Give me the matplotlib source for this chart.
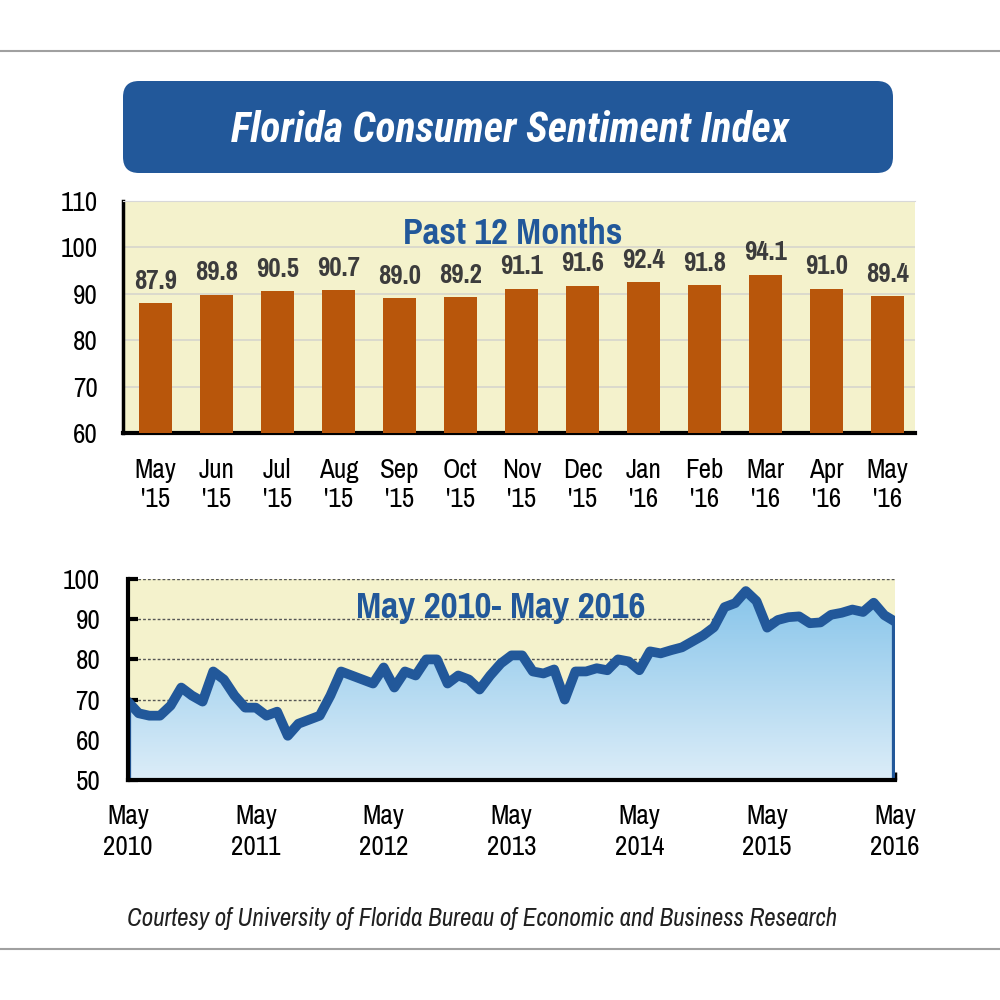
import numpy as np
import matplotlib
matplotlib.use('Agg')
import matplotlib.pyplot as plt
from matplotlib import font_manager as fm
from matplotlib.patches import FancyBboxPatch, Polygon
from matplotlib.lines import Line2D


# Arial Narrow benzeri dar yazi tipi (agirlik/stil varsa)
def pick(cands, bold=False, italic=False):
    for name in cands:
        for f in fm.fontManager.ttflist:
            w = f.weight if isinstance(f.weight, int) else fm.weight_dict.get(f.weight, 400)
            if f.name != name:
                continue
            if bold and w < 700:
                continue
            if not bold and w >= 600:
                continue
            if italic != (f.style in ('italic', 'oblique')):
                continue
            return name
    return None


narrow_list = ['Liberation Sans Narrow', 'Arial Narrow', 'Pragati Narrow', 'PT Sans Narrow',
               'Roboto Condensed', 'IBM Plex Sans Condensed', 'Asap Condensed',
               'Barlow Semi Condensed', 'Archivo Narrow']
reg_font = pick(['Liberation Sans Narrow', 'Arial Narrow', 'Archivo Narrow'] + narrow_list) or 'Liberation Sans'
ital_font = pick(['Liberation Sans Narrow', 'Arial Narrow', 'Archivo Narrow'] + narrow_list, italic=True) or 'Liberation Sans'
bold_font = pick(narrow_list, bold=True)
bi_font = pick(narrow_list, bold=True, italic=True)
plt.rcParams['font.family'] = [reg_font, 'Liberation Sans', 'DejaVu Sans']
bsc = 1.0 if bold_font else 0.87   # genis yazi tipinde kucult
bisc = 1.0 if bi_font else 0.87
bold_font = bold_font or 'Liberation Sans'
bi_font = bi_font or 'Liberation Sans'

# Son 12 ay
months = ["May\n'15", "Jun\n'15", "Jul\n'15", "Aug\n'15", "Sep\n'15", "Oct\n'15", "Nov\n'15",
          "Dec\n'15", "Jan\n'16", "Feb\n'16", "Mar\n'16", "Apr\n'16", "May\n'16"]
recent = [87.9, 89.8, 90.5, 90.7, 89.0, 89.2, 91.1, 91.6, 92.4, 91.8, 94.1, 91.0, 89.4]

# May 2010 - May 2016 aylik
history = [69.5, 66.6, 66.0, 66.0, 68.5, 73.0, 71.0, 69.5,
           77.0, 75.0, 71.0, 68.0, 68.0, 66.0, 67.0, 61.0, 64.0, 65.0, 66.0, 71.0,
           77.0, 76.0, 75.0, 74.0, 78.0, 73.0, 77.0, 76.0, 80.0, 80.0, 74.0, 76.0,
           75.0, 72.5, 76.0, 79.0, 81.0, 81.0, 77.0, 76.5, 77.5, 70.0, 77.0, 77.0,
           77.8, 77.3, 80.0, 79.5, 77.3, 82.0, 81.5, 82.3, 83.0, 84.5, 86.0, 88.0,
           93.0, 94.0, 97.0, 94.5, 87.9, 89.8, 90.5, 90.7, 89.0, 89.2, 91.1, 91.6,
           92.4, 91.8, 94.1, 91.0, 89.4]
year_ticks = [0, 12, 24, 36, 48, 60, 72]
year_labels = ['May\n2010', 'May\n2011', 'May\n2012', 'May\n2013', 'May\n2014', 'May\n2015', 'May\n2016']

blue = '#22589a'
yellow = '#f4f2cc'

fig = plt.figure(figsize=(10, 10), dpi=100)

# ust ve alt gri cizgiler
fig.add_artist(Line2D([0, 1], [0.949, 0.949], color='#a0a0a0', lw=1.5))
fig.add_artist(Line2D([0, 1], [0.051, 0.051], color='#a0a0a0', lw=1.5))

# baslik kutusu
box = FancyBboxPatch((0.123, 0.827), 0.770, 0.092, boxstyle='round,pad=0,rounding_size=0.016',
                     transform=fig.transFigure, facecolor=blue, edgecolor='none')
fig.add_artist(box)
fig.text(0.51, 0.870, 'Florida Consumer Sentiment Index', color='white', fontsize=30 * bisc,
         family=[bi_font, 'Liberation Sans'], fontweight='bold', fontstyle='italic',
         ha='center', va='center')

# 1. Bar grafigi
ax1 = fig.add_axes([0.123, 0.567, 0.792, 0.2323])
x = np.arange(len(recent))
ax1.set_facecolor(yellow)
ax1.bar(x, recent, width=0.54, color='#b8560b', zorder=3)
for xi, v in zip(x, recent):
    ax1.annotate(f'{v:.1f}', (xi, v), xytext=(0, 7), textcoords='offset points',
                 ha='center', va='bottom', fontsize=21 * bsc, fontweight='bold',
                 family=[bold_font, 'Liberation Sans'], color='#3c3c3c')
ax1.set_ylim(60, 110)
ax1.set_xlim(-0.53, 12.45)
ax1.set_yticks(range(60, 111, 10))
ax1.set_xticks(x)
ax1.set_xticklabels(months, fontsize=19.5, linespacing=1.2)
ax1.tick_params(axis='y', labelsize=19.5, length=0, pad=18)
ax1.tick_params(axis='x', length=0, pad=18)
ax1.grid(axis='y', color='#d6d6cc', lw=1.2, zorder=0)
ax1.set_axisbelow(True)
ax1.spines['right'].set_visible(False)
ax1.spines['top'].set_color('#d8d8d8')
ax1.spines['left'].set_linewidth(2.5)
ax1.spines['bottom'].set_linewidth(3)
ax1.text(0.492, 0.86, 'Past 12 Months', transform=ax1.transAxes, ha='center', va='center',
         fontsize=28.5 * bsc, fontweight='bold', family=[bold_font, 'Liberation Sans'], color=blue)

# 2. Alan grafigi
ax2 = fig.add_axes([0.128, 0.220, 0.767, 0.201])
t = np.arange(len(history))
ax2.set_facecolor(yellow)
for g in range(60, 101, 10):
    ax2.axhline(g, color='#555555', lw=1, ls=(0, (2, 1.5)), zorder=1)

verts = [(0, 50)] + list(zip(t, history)) + [(72, 50)]
poly = Polygon(verts, closed=True, facecolor='none', edgecolor='none')
ax2.add_patch(poly)
grad = np.linspace(0, 1, 256).reshape(-1, 1)
cmap = matplotlib.colors.LinearSegmentedColormap.from_list('g', ['#dcedf8', '#86c4ea'])
im = ax2.imshow(grad, extent=(0, 72, 50, 98), origin='lower', aspect='auto', cmap=cmap, zorder=2)
im.set_clip_path(poly)
ax2.set_xlim(0, 72)
ax2.set_ylim(50, 100)
ax2.plot([0] + list(t) + [72], [50] + history + [50], color=blue, lw=4.5, zorder=3,
         solid_joinstyle='round')
ax2.plot(t, history, color=blue, lw=7, zorder=4, solid_joinstyle='round', solid_capstyle='round')

ax2.set_yticks(range(50, 101, 10))
ax2.set_xticks(year_ticks)
ax2.set_xticklabels(year_labels, fontsize=19.5, linespacing=1.3)
ax2.tick_params(axis='y', labelsize=19.5, direction='in', length=7, width=3, pad=20)
ax2.tick_params(axis='x', direction='in', length=6, width=2.5, pad=17)
ax2.spines['right'].set_visible(False)
ax2.spines['top'].set_visible(False)
ax2.spines['left'].set_linewidth(3)
ax2.spines['bottom'].set_linewidth(3)
for s in ('left', 'bottom'):
    ax2.spines[s].set_zorder(6)
ax2.text(0.486, 0.86, 'May 2010- May 2016', transform=ax2.transAxes, ha='center', va='center',
         fontsize=29 * bsc, fontweight='bold', family=[bold_font, 'Liberation Sans'],
         color=blue, zorder=7)

fig.text(0.482, 0.081, 'Courtesy of University of Florida Bureau of Economic and Business Research',
         fontsize=18, fontstyle='italic', family=[ital_font, 'Liberation Sans'],
         ha='center', va='center', color='#202020')

fig.savefig('out.png', dpi=100)
